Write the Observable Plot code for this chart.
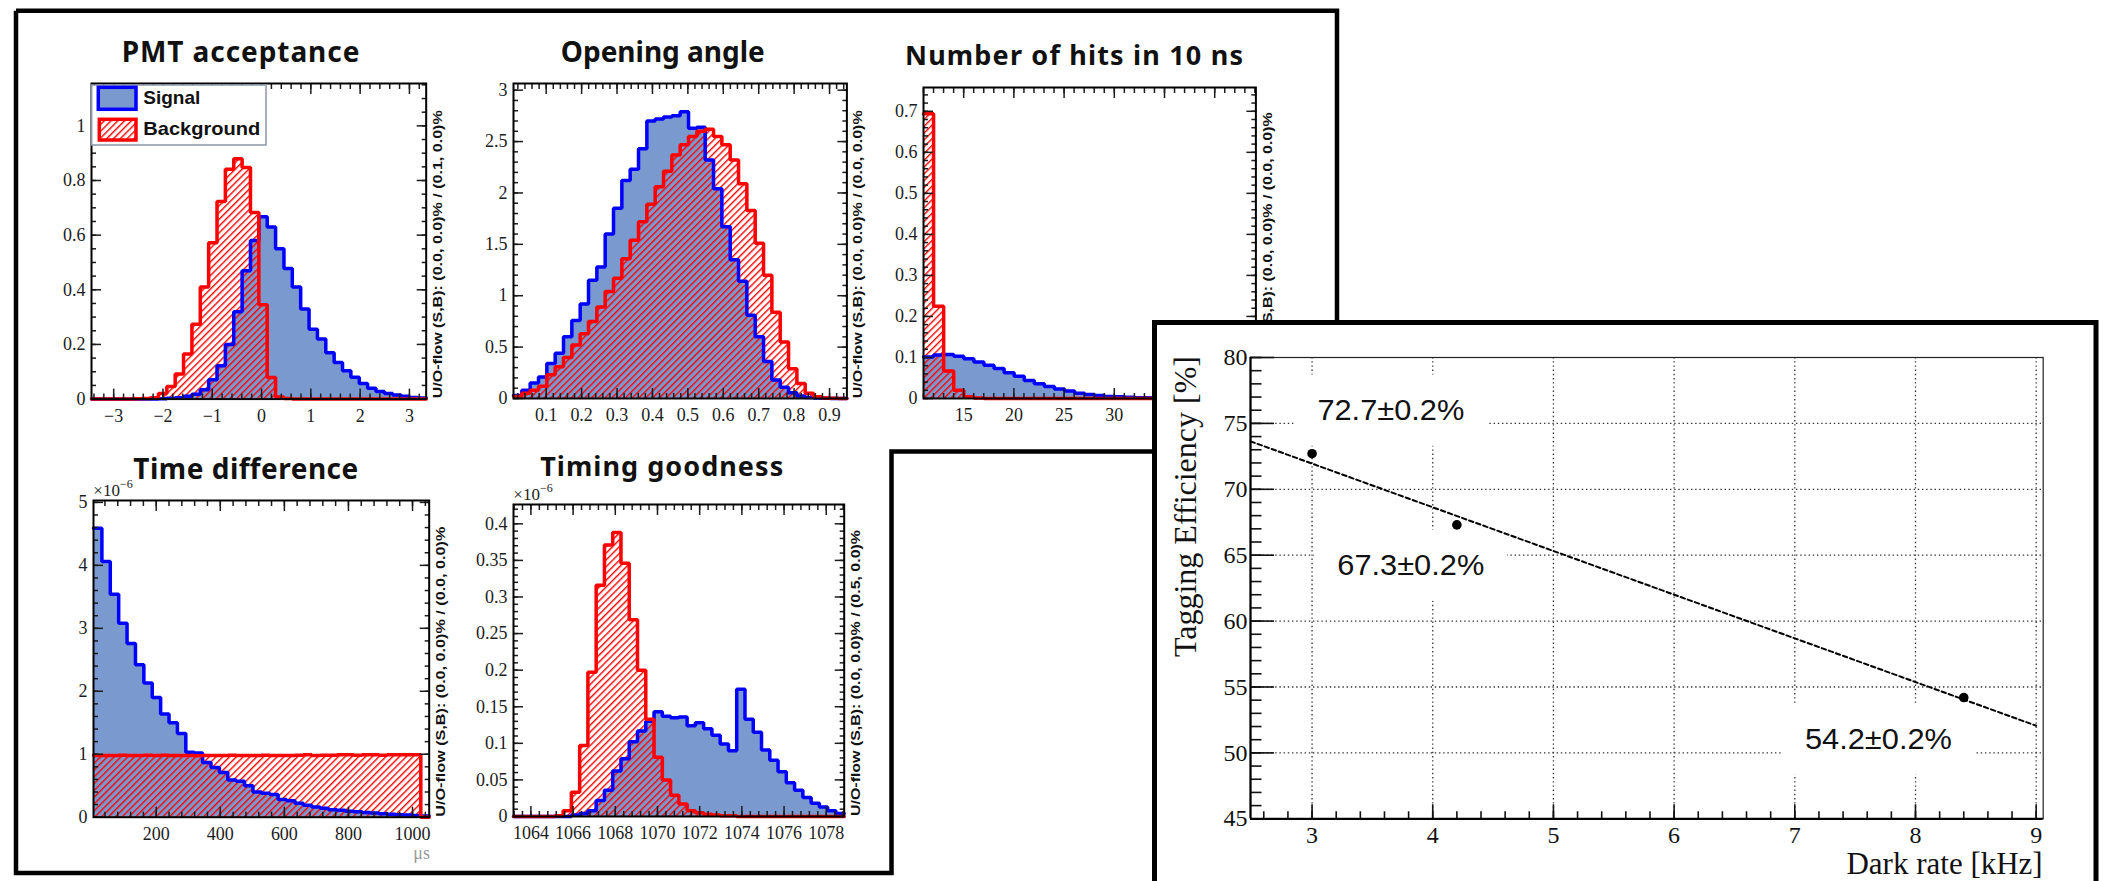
<!DOCTYPE html>
<html><head><meta charset="utf-8">
<script src="https://cdn.jsdelivr.net/npm/d3@7"></script>
<script src="https://cdn.jsdelivr.net/npm/@observablehq/plot@0.6"></script>
<style>
html,body{margin:0;padding:0;background:#fff;}
#page{position:relative;width:2108px;height:881px;overflow:hidden;background:#fff;}
</style></head><body><div id="page"></div>
<script>
// ---------------- DATA ----------------
// PMT acceptance (40 bins)
const pmtRange = [-3.45, 3.34];
const pmtSig = [0,0,0,0,0,0,0,0,0.001,0.003,0.005,0.01,0.018,0.034,0.071,0.122,0.2,0.32,0.47,0.58,0.667,0.63,0.55,0.478,0.41,0.33,0.256,0.22,0.17,0.134,0.104,0.08,0.057,0.04,0.028,0.02,0.015,0.01,0.006,0.004];
const pmtBkg = [0,0,0,0,0,0.001,0.002,0.005,0.02,0.046,0.092,0.165,0.274,0.41,0.572,0.723,0.841,0.88,0.848,0.683,0.345,0.079,0.008,0.002,0,0,0,0,0,0,0,0,0,0,0,0,0,0,0,0];
// Opening angle (40 bins)
const angRange = [0.0077, 0.949];
const angSig = [0.03,0.08,0.15,0.21,0.34,0.44,0.6,0.76,0.92,1.15,1.28,1.6,1.85,2.12,2.23,2.43,2.7,2.72,2.74,2.75,2.79,2.63,2.64,2.32,2.04,1.67,1.35,1.14,0.81,0.6,0.36,0.18,0.11,0.055,0.023,0.01,0.004,0.002,0.001,0];
const angBkg = [0.02,0.05,0.08,0.12,0.23,0.31,0.4,0.52,0.63,0.75,0.89,1.04,1.17,1.36,1.54,1.72,1.89,2.06,2.21,2.37,2.47,2.55,2.6,2.62,2.55,2.47,2.32,2.09,1.83,1.51,1.2,0.84,0.55,0.29,0.146,0.05,0.016,0.005,0.002,0];
// Number of hits in 10 ns (33 bins)
const hitsRange = [11, 44.1];
const hitsSig = [0.101,0.106,0.107,0.103,0.097,0.089,0.081,0.073,0.063,0.054,0.044,0.036,0.029,0.023,0.018,0.013,0.01,0.007,0.005,0.004,0.003,0.002,0.002,0.001,0.001,0.001,0,0,0,0,0,0,0];
const hitsBkg = [0.694,0.225,0.067,0.02,0.004,0.001,0,0,0,0,0,0,0,0,0,0,0,0,0,0,0,0,0,0,0,0,0,0,0,0,0,0,0];
// Time difference (40 bins, x10^-6)
const dtRange = [4.3, 1052];
const dtSig = [4.59,4.06,3.54,3.08,2.76,2.42,2.13,1.9,1.64,1.5,1.33,1.03,1.02,0.87,0.79,0.71,0.59,0.57,0.5,0.4,0.38,0.36,0.28,0.26,0.22,0.19,0.16,0.14,0.12,0.11,0.095,0.085,0.075,0.065,0.055,0.048,0.04,0.033,0.028,0.02];
const dtBkg = [0.98,0.98,0.98,0.985,0.98,0.98,0.985,0.98,0.985,0.98,0.98,0.98,0.975,0.98,0.98,0.98,0.985,0.98,0.98,0.98,0.985,0.98,0.98,0.98,0.985,0.99,0.98,0.985,0.985,0.99,0.99,0.985,0.99,0.99,0.985,0.99,0.99,0.99,0.99,0];
// Timing goodness (40 bins, x10^-6)
const tgRange = [1063.175, 1078.85];
const tgSig = [0,0,0,0,0,0,0,0.002,0.004,0.008,0.022,0.036,0.062,0.079,0.102,0.117,0.13,0.143,0.137,0.135,0.136,0.124,0.128,0.12,0.111,0.099,0.09,0.174,0.133,0.115,0.091,0.077,0.061,0.046,0.036,0.026,0.018,0.013,0.008,0.004];
const tgBkg = [0,0,0,0,0,0.001,0.008,0.033,0.097,0.197,0.316,0.371,0.388,0.346,0.269,0.2,0.133,0.081,0.05,0.029,0.017,0.008,0.005,0.003,0.002,0.001,0.001,0,0,0,0,0,0,0,0,0,0,0,0,0];
const panelTitles = ["PMT acceptance", "Opening angle", "Number of hits in 10 ns", "Time difference", "Timing goodness"];
const uoTexts = [
  "U/O-flow (S,B): (0.0, 0.0)% / (0.1, 0.0)%",
  "U/O-flow (S,B): (0.0, 0.0)% / (0.0, 0.0)%",
  "U/O-flow (S,B): (0.0, 0.0)% / (0.0, 0.0)%",
  "U/O-flow (S,B): (0.0, 0.0)% / (0.0, 0.0)%",
  "U/O-flow (S,B): (0.0, 0.0)% / (0.5, 0.0)%"
];
const legendLabels = ["Signal", "Background"];
// Tagging efficiency vs dark rate
const darkRate = [3, 4.2, 8.4];
const tagEff = [72.7, 67.3, 54.2];
const fitX = [2.49, 9.0];
const fitY = [73.64, 52.06];
const labelX = [3.653, 3.818, 7.693];
const labelY = [75.97, 64.2, 51.04];
const labelText = ["72.7±0.2%", "67.3±0.2%", "54.2±0.2%"];

// ---------------- HELPERS ----------------
const page = document.getElementById("page");
function place(el, left, top, z) {
  el.style.position = "absolute"; el.style.left = left + "px"; el.style.top = top + "px"; el.style.zIndex = z;
  page.appendChild(el);
}
const SIGFILL = "#7a99ce", SIGLINE = "#0000ff", BKGLINE = "#ff0000";
const SERIF = "'Liberation Serif', 'Times New Roman', serif";
const SANS = "'Liberation Sans', Arial, sans-serif";

// hatch pattern defs
const defsSvg = d3.create("svg").attr("width", 1).attr("height", 1);
const pat = defsSvg.append("defs").append("pattern").attr("id", "hatch")
  .attr("patternUnits", "userSpaceOnUse").attr("width", 4.8).attr("height", 4.8)
  .attr("patternTransform", "rotate(45)");
pat.append("rect").attr("x", 0).attr("y", 0).attr("width", 1.4).attr("height", 4.8).attr("fill", BKGLINE);
place(defsSvg.node(), 0, 0, 0);

function steps(range, vals) {
  const w = (range[1] - range[0]) / vals.length, out = [];
  vals.forEach((v, i) => { out.push({x: range[0] + i * w, y: v}, {x: range[0] + (i + 1) * w, y: v}); });
  return out;
}
function tickRange(dom, step) {
  const out = [], n0 = Math.ceil(dom[0] / step - 1e-9), n1 = Math.floor(dom[1] / step + 1e-9);
  for (let i = n0; i <= n1; i++) out.push(+(i * step).toFixed(6));
  return out;
}
const fmt = d => String(+d.toFixed(4)).replace("-", "\u2212");
function fontFix(sel, family, size) {
  sel.attr("font-family", family).attr("font-size", size)
    .style("font-family", family).style("font-size", size + "px");
}

function hist(cfg) {
  const mL = 62, mR = 22, mT = 14, mB = 36;
  const [l, t, r, b] = cfg.frame;
  const fw = r - l, fh = b - t;
  const s = steps(cfg.range, cfg.sig), bk = steps(cfg.range, cfg.bkg);
  const xMaj = tickRange(cfg.range, cfg.xMaj), xMin = tickRange(cfg.range, cfg.xMin);
  const yMaj = tickRange(cfg.yd, cfg.yMaj), yMin = tickRange(cfg.yd, cfg.yMin);
  const tk = {strokeWidth: 1.5};
  const tf = {fontFamily: SERIF, fontSize: 18};
  const plot = Plot.plot({
    width: fw + mL + mR, height: fh + mT + mB,
    marginLeft: mL, marginRight: mR, marginTop: mT, marginBottom: mB,
    style: {background: "transparent", color: "#1c1c1c", overflow: "visible", fontFamily: SERIF},
    x: {domain: cfg.range, label: null},
    y: {domain: cfg.yd, label: null},
    marks: [
      Plot.area(s, {x1: "x", y1: 0, y2: "y", fill: SIGFILL}),
      Plot.area(bk, {x1: "x", y1: 0, y2: "y", fill: "url(#hatch)"}),
      Plot.line(s, {x: "x", y: "y", stroke: SIGLINE, strokeWidth: 3.5, strokeLinejoin: "miter"}),
      Plot.line(bk, {x: "x", y: "y", stroke: BKGLINE, strokeWidth: 3.5, strokeLinejoin: "miter"}),
      Plot.axisX({anchor: "bottom", ticks: xMin, tickSize: -5, text: null, ...tk}),
      Plot.axisX({anchor: "bottom", ticks: xMaj, tickSize: -10, text: null, ...tk}),
      Plot.axisX({anchor: "top", ticks: xMin, tickSize: -5, text: null, ...tk}),
      Plot.axisX({anchor: "top", ticks: xMaj, tickSize: -10, text: null, ...tk}),
      Plot.axisY({anchor: "left", ticks: yMin, tickSize: -5, text: null, ...tk}),
      Plot.axisY({anchor: "left", ticks: yMaj, tickSize: -10, text: null, ...tk}),
      Plot.axisY({anchor: "right", ticks: yMin, tickSize: -5, text: null, ...tk}),
      Plot.axisY({anchor: "right", ticks: yMaj, tickSize: -10, text: null, ...tk}),
      Plot.axisX({anchor: "bottom", ticks: xMaj, tickSize: 0, tickPadding: 10, tickFormat: fmt, ...tf}),
      Plot.axisY({anchor: "left", ticks: yMaj, tickSize: 0, tickPadding: 6, tickFormat: fmt, ...tf}),
      Plot.frame({stroke: "#000", strokeWidth: 2})
    ]
  });
  fontFix(d3.select(plot).selectAll("text"), SERIF, 18);
  place(plot, l - mL, t - mT, 2);
}

const panels = [
  {frame: [91, 82.7, 425.7, 398.3], range: pmtRange, yd: [0, 1.155], sig: pmtSig, bkg: pmtBkg, xMaj: 1, xMin: 0.2, yMaj: 0.2, yMin: 0.05},
  {frame: [513.3, 83.3, 846.7, 398.3], range: angRange, yd: [0, 3.065], sig: angSig, bkg: angBkg, xMaj: 0.1, xMin: 0.02, yMaj: 0.5, yMin: 0.1},
  {frame: [923.3, 87.3, 1255.7, 398.3], range: hitsRange, yd: [0, 0.758], sig: hitsSig, bkg: hitsBkg, xMaj: 5, xMin: 1, yMaj: 0.1, yMin: 0.02},
  {frame: [93.3, 500, 429, 816.7], range: dtRange, yd: [0, 5.03], sig: dtSig, bkg: dtBkg, xMaj: 200, xMin: 40, yMaj: 1, yMin: 0.2},
  {frame: [513.3, 504, 844, 816], range: tgRange, yd: [0, 0.4264], sig: tgSig, bkg: tgBkg, xMaj: 2, xMin: 0.4, yMaj: 0.05, yMin: 0.01}
];
panels.forEach(hist);

// ---------------- OVERLAY (left figure) ----------------
const ov = d3.create("svg").attr("width", 2108).attr("height", 881).style("pointer-events", "none");
ov.append("polyline")
  .attr("points", "16,10.8 1337,10.8 1337,451.5 891.5,451.5 891.5,873 16,873 16,10.8")
  .attr("fill", "none").attr("stroke", "#000").attr("stroke-width", 4.5).attr("stroke-linejoin", "miter");

const titleLayout = [
  {x: 240.5, y: 61.7, w: 237.7, fs: 28},
  {x: 662.8, y: 61.7, w: 204, fs: 28},
  {x: 1074, y: 65, w: 338, fs: 27},
  {x: 245.8, y: 479.3, w: 225, fs: 28},
  {x: 661.7, y: 476, w: 243, fs: 27}
];
panelTitles.forEach((t, i) => {
  const L = titleLayout[i];
  ov.append("text").attr("x", L.x).attr("y", L.y).attr("text-anchor", "middle")
    .attr("font-family", "'Noto Sans', 'Liberation Sans', sans-serif").attr("font-weight", 700)
    .attr("font-size", L.fs).attr("fill", "#111")
    .attr("textLength", L.w).attr("lengthAdjust", "spacing").text(t);
});
const uoLayout = [
  {x: 441.5, y: 398.3, len: 288},
  {x: 862, y: 398.3, len: 288},
  {x: 1272, y: 398.3, len: 286},
  {x: 445, y: 816.7, len: 290},
  {x: 860, y: 816, len: 286}
];
uoTexts.forEach((t, i) => {
  const L = uoLayout[i];
  ov.append("text").attr("transform", `translate(${L.x},${L.y}) rotate(-90)`)
    .attr("font-family", SANS).attr("font-weight", 700)
    .attr("font-size", 13).attr("fill", "#111")
    .attr("textLength", L.len).attr("lengthAdjust", "spacingAndGlyphs").text(t);
});
// x10^-6 multipliers
[[93.3, 496], [513.3, 500]].forEach(([x, y]) => {
  const tx = ov.append("text").attr("x", x).attr("y", y).attr("font-family", SERIF)
    .attr("font-size", 17).attr("fill", "#222");
  tx.append("tspan").text("\u00d710");
  tx.append("tspan").attr("dy", -8).attr("font-size", 12).text("\u22126");
});
ov.append("text").attr("x", 430).attr("y", 859).attr("text-anchor", "end")
  .attr("font-family", SERIF).attr("font-size", 18).attr("fill", "#999").text("\u03bcs");
// legend
const lg = ov.append("g");
lg.append("rect").attr("x", 91.7).attr("y", 85).attr("width", 174.3).attr("height", 60)
  .attr("fill", "#fff").attr("stroke", "#8d97a8").attr("stroke-width", 1.5);
lg.append("rect").attr("x", 98.3).attr("y", 87.3).attr("width", 37.7).attr("height", 22)
  .attr("fill", SIGFILL).attr("stroke", SIGLINE).attr("stroke-width", 3.5);
lg.append("rect").attr("x", 99.3).attr("y", 119.3).attr("width", 36.7).attr("height", 20.7)
  .attr("fill", "url(#hatch)").attr("stroke", BKGLINE).attr("stroke-width", 3.5);
lg.append("text").attr("x", 143.3).attr("y", 104).attr("font-family", SANS)
  .attr("font-weight", 700).attr("font-size", 19).attr("fill", "#111").text(legendLabels[0]);
lg.append("text").attr("x", 143.3).attr("y", 135).attr("font-family", SANS)
  .attr("font-weight", 700).attr("font-size", 19).attr("fill", "#111")
  .attr("textLength", 117).attr("lengthAdjust", "spacingAndGlyphs").text(legendLabels[1]);
place(ov.node(), 0, 0, 3);

// ---------------- RIGHT PANEL ----------------
const rv = d3.create("svg").attr("width", 2108).attr("height", 881).style("pointer-events", "none");
rv.append("rect").attr("x", 1154.5).attr("y", 322.5).attr("width", 941.5).attr("height", 700)
  .attr("fill", "#fff").attr("stroke", "#000").attr("stroke-width", 5);
rv.append("text").attr("transform", "translate(1196,356) rotate(-90)").attr("text-anchor", "end")
  .attr("font-family", SERIF).attr("font-size", 32).attr("fill", "#111")
  .text("Tagging Efficiency [%]");
rv.append("text").attr("x", 2042.7).attr("y", 873.5).attr("text-anchor", "end")
  .attr("font-family", SERIF).attr("font-size", 31).attr("fill", "#111")
  .text("Dark rate [kHz]");
place(rv.node(), 0, 0, 5);

const effPts = darkRate.map((x, i) => ({x, y: tagEff[i]}));
const fitPts = fitX.map((x, i) => ({x, y: fitY[i]}));
const labels = labelText.map((t, i) => ({x: labelX[i], y: labelY[i], t}));
const rXd = [2.49, 9.058], rYd = [45, 80];
const rmL = 90, rmT = 27, rmR = 30, rmB = 50;
const rtf = {fontFamily: SERIF, fontSize: 24};
const rPlot = Plot.plot({
  width: rmL + (2042.7 - 1250) + rmR, height: rmT + (818.3 - 357) + rmB,
  marginLeft: rmL, marginRight: rmR, marginTop: rmT, marginBottom: rmB,
  style: {background: "transparent", color: "#111", overflow: "visible", fontFamily: SERIF},
  x: {domain: rXd, label: null},
  y: {domain: rYd, label: null},
  marks: [
    Plot.ruleX(tickRange(rXd, 1), {stroke: "#333", strokeWidth: 1.3, strokeDasharray: "1.4,2.8"}),
    Plot.ruleY(tickRange([50, 75], 5), {stroke: "#333", strokeWidth: 1.3, strokeDasharray: "1.4,2.8"}),
    Plot.rect(labels, {x1: d => d.x - 0.8, x2: d => d.x + 0.8, y1: d => d.y - 2.7, y2: d => d.y + 2.7, fill: "#fff"}),
    Plot.line(fitPts, {x: "x", y: "y", stroke: "#000", strokeWidth: 2, strokeDasharray: "4.5,3"}),
    Plot.dot(effPts, {x: "x", y: "y", r: 4.8, fill: "#000", stroke: "none"}),
    Plot.text(labels, {x: "x", y: "y", text: "t", fill: "#111", fontFamily: SANS, fontSize: 30}),
    Plot.frame({stroke: "#222", strokeWidth: 1.2}),
    Plot.axisY({anchor: "left", ticks: tickRange(rYd, 1), tickSize: -11.5, text: null, strokeWidth: 1.6}),
    Plot.axisY({anchor: "left", ticks: tickRange(rYd, 5), tickSize: -24, text: null, strokeWidth: 1.6}),
    Plot.axisX({anchor: "bottom", ticks: tickRange(rXd, 0.2), tickSize: -7, text: null, strokeWidth: 1.6}),
    Plot.axisX({anchor: "bottom", ticks: tickRange(rXd, 1), tickSize: -14, text: null, strokeWidth: 1.6}),
    Plot.ruleX([rXd[0]], {stroke: "#000", strokeWidth: 2.2}),
    Plot.ruleY([rYd[0]], {stroke: "#000", strokeWidth: 2.2}),
    Plot.axisY({anchor: "left", ticks: tickRange(rYd, 5), tickSize: 0, tickPadding: 3, tickFormat: fmt, ...rtf}),
    Plot.axisX({anchor: "bottom", ticks: tickRange(rXd, 1), tickSize: 0, tickPadding: 7, tickFormat: fmt, ...rtf})
  ]
});
const rSel = d3.select(rPlot);
const effSel = rSel.selectAll('text').filter(function() { return labelText.includes(this.textContent); });
const tickSel = rSel.selectAll('text').filter(function() { return !labelText.includes(this.textContent); });
fontFix(tickSel, SERIF, 24);
fontFix(effSel, SANS, 30);
effSel.attr("textLength", 147).attr("lengthAdjust", "spacingAndGlyphs");
place(rPlot, 1250 - rmL, 357 - rmT, 6);
</script></body></html>
